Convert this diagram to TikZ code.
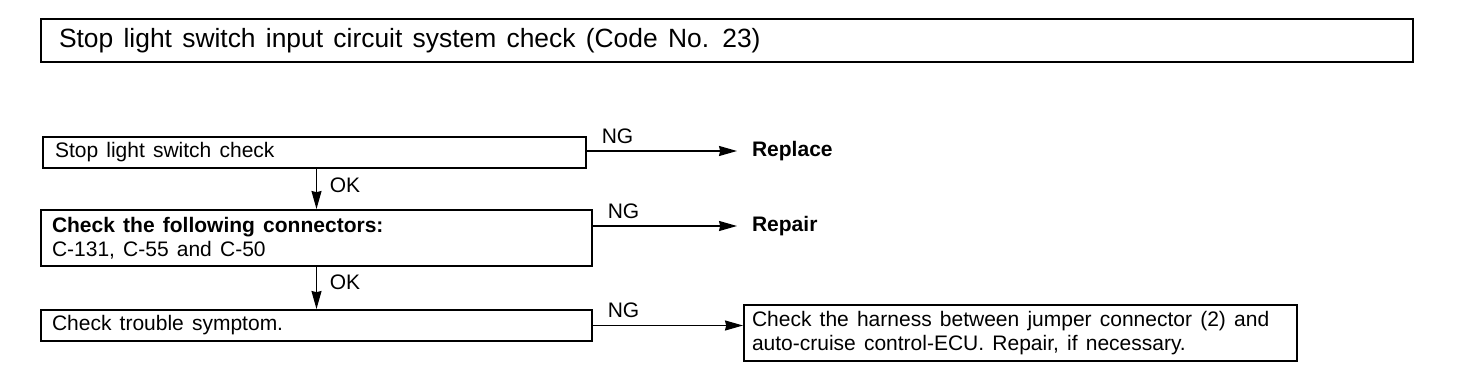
\documentclass[tikz,border=0pt]{standalone}
\usepackage{fontspec}
\setmainfont{Liberation Sans}
\usetikzlibrary{arrows.meta, positioning, calc}

\begin{document}
\begin{tikzpicture}[x=0.5pt, y=-0.5pt,
    box/.style={rectangle, draw, line width=1pt, inner xsep=5.5pt, inner ysep=2pt, text width=264.5pt, minimum height=15.5pt, align=left, font=\fontsize{10.5}{12}\selectfont, execute at begin node={\spaceskip=0.39em plus 0.1em\relax}},
    arrow/.style={-{Stealth[length=9pt, width=5pt, inset=0.6pt]}, line width=0.7pt},
    lbl/.style={font=\fontsize{10.5}{12}\selectfont},
    result/.style={anchor=west, font=\fontsize{10.5}{12}\selectfont\bfseries}
]
    \useasboundingbox (0,0) rectangle (1472,384);
    \node[box, line width=1.4pt, inner xsep=9pt, text width=668pt, minimum height=21.5pt, font=\fontsize{13.2}{15}\selectfont] (title) at (727,40.5) {Stop light switch input circuit system check (Code No. 23)};
    \node[box, inner xsep=6pt, text width=259.5pt] (slcheck) at (314.5,152.5) {Stop light switch check};
    \node[box, minimum height=28pt] (conn) at (316.5,238) {\textbf{Check the following connectors:}\\C-131, C-55 and C-50};
    \node[box] (symp) at (316.5,325.5) {Check trouble symptom.};
    \node[box, inner xsep=4pt, text width=268.5pt, minimum height=28pt] (harness) at (1020.5,333) {Check the harness between jumper connector (2) and\\auto-cruise control-ECU. Repair, if necessary.};
    \node[result] (replace) at (745,151) {Replace};
    \node[result] (repair) at (745,226) {Repair};
    \draw[arrow, shorten >=4pt] (slcheck.east |- replace) -- (replace.west) node[pos=0, anchor=south west, xshift=3.7pt, lbl] {NG};
    \draw[arrow, shorten >=4pt] (conn.east |- repair) -- (repair.west) node[pos=0, anchor=south west, xshift=3.7pt, lbl] {NG};
    \draw[arrow] (symp.east) -- (symp.east -| harness.west) node[pos=0, anchor=south west, xshift=3.7pt, lbl] {NG};
    \draw[arrow] (slcheck.south -| conn.north) -- (conn.north) node[midway, anchor=west, xshift=3pt, yshift=2pt, lbl] {OK};
    \draw[arrow] (conn.south) -- (symp.north) node[midway, anchor=west, xshift=3pt, yshift=3pt, lbl] {OK};
\end{tikzpicture}
\end{document}
